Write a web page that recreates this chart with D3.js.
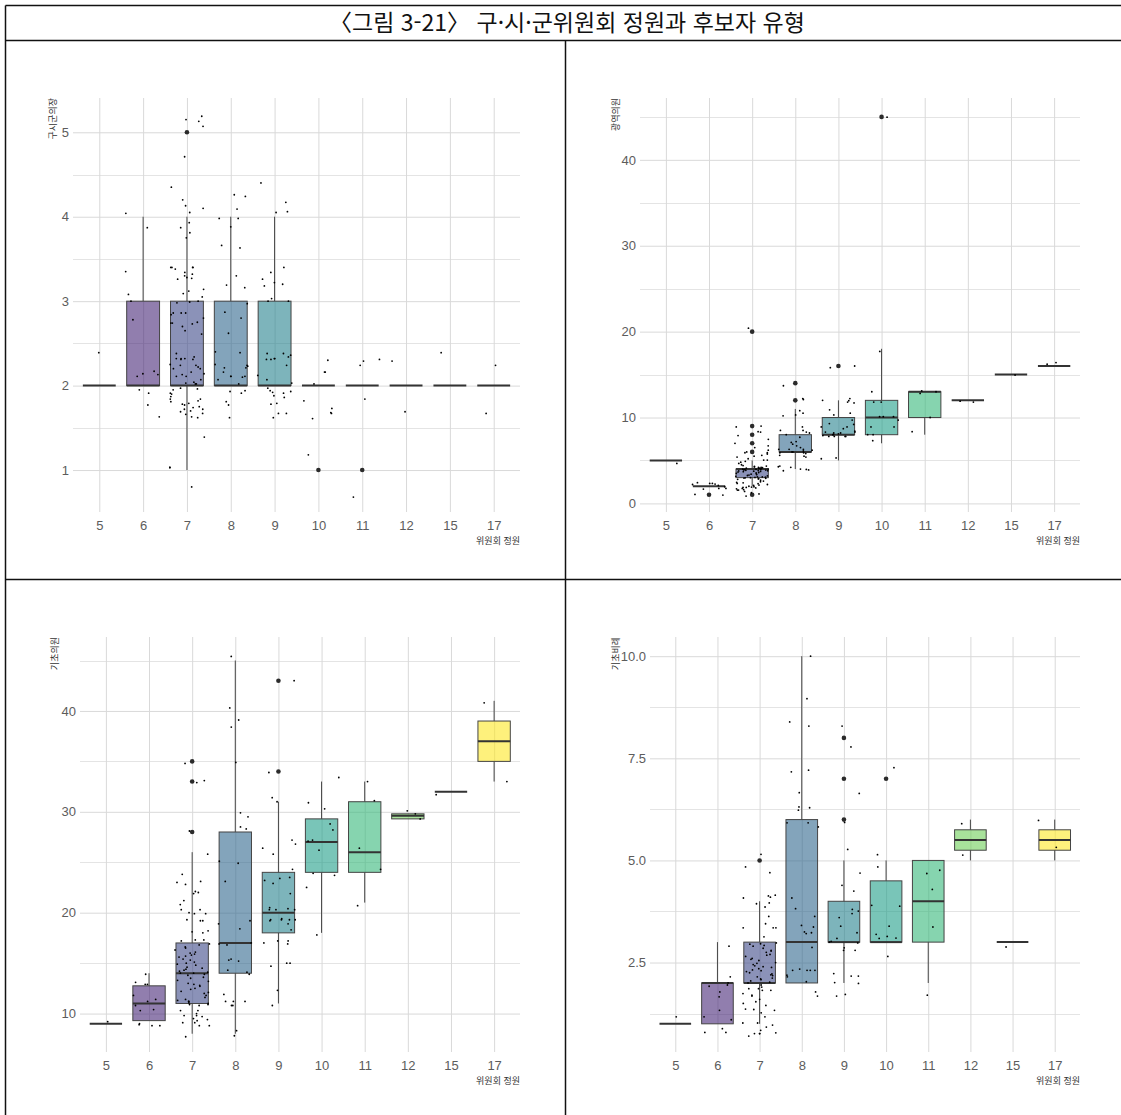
<!DOCTYPE html>
<html lang="ko">
<head>
  <meta charset="UTF-8" />
  <title>구·시·군위원회 정원과 후보자 유형</title>
  <script src="https://d3js.org/d3.v7.min.js"></script>
  <style>
    body {
      margin: 0;
      background: #fff;
    }
    svg {
      display: block;
    }
    .tick text {
      font-family: "Liberation Sans", Arial, sans-serif;
      font-size: 13px;
      fill: #5c5c5c;
    }
    .ko {
      font-family: "Noto Sans CJK KR", sans-serif;
    }
  </style>
</head>
<body>
  <svg id="chart" width="1121" height="1115"></svg>

  <script>
    // x categories: committee size (위원회 정원)
    const categories = ["5", "6", "7", "8", "9", "10", "11", "12", "15", "17"];

    // box stats per category: [lower whisker, q1, median, q3, upper whisker]
    // 구시군의장
    const mayorBox = [
      [2, 2, 2, 2, 2], [2, 2, 2, 3, 4], [1, 2, 2, 3, 4], [2, 2, 2, 3, 4], [2, 2, 2, 3, 4],
      [2, 2, 2, 2, 2], [2, 2, 2, 2, 2], [2, 2, 2, 2, 2], [2, 2, 2, 2, 2], [2, 2, 2, 2, 2]
    ];
    const mayorOutliers = [["7", 5], ["10", 1], ["11", 1]];
    const mayorPoints = [
      [2.39],
      [3.08, 3.0, 3.87, 4.04, 3.35, 2.78, 2.14, 2.17, 2.13, 2.11, 1.95, 1.77, 1.63, 1.91],
      [5.19, 5.13, 5.15, 5.07, 4.71, 4.35, 4.20, 4.13, 4.05, 4.10, 3.93, 3.87, 3.81, 3.75, 3.40, 3.38, 3.40, 3.40,
       3.40, 3.30, 3.27, 3.32, 3.26, 3.34, 3.28, 3.14, 3.12, 3.09, 3.05, 2.99, 2.98, 3.0, 2.86, 2.86, 2.86, 2.84,
       2.74, 2.74, 2.73, 2.75, 2.70, 2.65, 2.61, 2.80, 2.32, 2.32, 2.31, 2.38, 2.34, 2.31, 2.25, 2.24, 2.32, 2.24,
       2.20, 2.20, 2.22, 2.14, 2.13, 2.16, 2.11, 2.11, 2.07, 2.02, 2.04, 2.02, 2.03, 1.97, 1.95, 1.96, 1.90, 1.87,
       1.91, 1.84, 1.82, 1.78, 1.84, 1.75, 1.79, 1.81, 1.77, 1.74, 1.72, 1.70, 1.72, 1.69, 1.66, 1.67, 1.62, 1.63,
       1.39, 1.03, 1.03, 0.80],
      [3.66, 3.98, 4.09, 3.98, 4.26, 4.24, 3.88, 3.63, 3.19, 3.16, 3.30, 2.87, 2.97, 2.62, 2.80, 2.40, 2.39, 2.23,
       2.21, 2.25, 2.21, 2.16, 2.11, 2.24, 2.11, 2.07, 2.10, 2.11, 2.02, 1.94, 1.91, 1.93, 1.81, 1.77, 1.62],
      [4.05, 4.40, 4.17, 4.06, 3.22, 3.40, 3.26, 3.34, 3.18, 3.20, 3.03, 3.0, 3.0, 2.38, 2.34, 2.31, 2.32, 2.31,
       2.36, 2.38, 2.32, 2.24, 2.12, 2.07, 2.03, 1.88, 1.93, 1.94, 1.86, 1.97, 1.92, 1.91, 1.79, 1.78, 1.67, 1.67, 1.62],
      [2.30, 2.16, 2.02, 2.16, 1.82, 1.73, 1.68, 1.67, 1.61, 1.18],
      [2.29, 2.24, 2.31, 1.84, 0.68],
      [2.29, 1.69],
      [2.39],
      [2.24, 1.67]
    ];

    // 광역의원
    const metroBox = [
      [5, 5, 5, 5, 5], [2, 2, 2, 2, 2], [2, 3, 4, 4, 5], [4, 6, 6, 8, 11], [5, 8, 8, 10, 12],
      [7, 8, 10, 12, 18], [8, 10, 13, 13, 13], [12, 12, 12, 12, 12], [15, 15, 15, 15, 15], [16, 16, 16, 16, 16]
    ];
    const metroOutliers = [
      ["6", 1], ["7", 1], ["7", 6], ["7", 7], ["7", 8], ["7", 9], ["7", 20],
      ["8", 12], ["8", 14], ["9", 16], ["10", 45]
    ];
    const metroPoints = [
      [4.66],
      [2.41, 2.33, 2.2, 1.94, 2.25, 2.1, 1.75, 1.75, 2.33, 0.97, 1.05, 1.67],
      [20.4, 9.0, 8.9, 8.35, 8.3, 7.9, 7.46, 7.0, 6.7, 6.5, 6.2, 6.0, 5.9, 5.9, 5.75, 5.6, 5.5, 5.4, 5.2, 5.05,
       5.05, 4.9, 4.8, 4.66, 4.5, 4.4, 4.35, 4.3, 4.25, 4.2, 4.2, 4.15, 4.1, 4.1, 4.05, 4.05, 4.0, 4.0, 3.98, 3.95,
       3.93, 3.9, 3.88, 3.85, 3.82, 3.8, 3.78, 3.75, 3.72, 3.7, 3.65, 3.6, 3.55, 3.5, 3.45, 3.4, 3.35, 3.3, 3.25,
       3.2, 3.15, 3.1, 3.08, 3.05, 3.02, 3.0, 2.98, 2.95, 2.92, 2.9, 2.85, 2.8, 2.7, 2.6, 2.52, 2.45, 2.4, 2.33,
       2.3, 2.2, 2.14, 2.1, 2.0, 1.94, 1.9, 1.86, 1.86, 1.8, 1.75, 1.7, 1.6, 1.55, 1.55, 1.4, 1.24, 1.1, 0.85],
      [13.7, 12.2, 12.1, 10.8, 10.5, 10.3, 10.2, 8.9, 8.5, 8.5, 8.3, 8.2, 8.0, 7.7, 7.2, 7.1, 6.9, 6.7, 6.5, 6.3,
       6.3, 6.3, 6.2, 6.1, 6.0, 6.0, 5.9, 5.9, 5.8, 5.6, 5.5, 5.4, 4.35, 4.27, 4.2, 4.0, 3.96, 3.9, 3.8],
      [16.0, 15.8, 11.8, 12.0, 11.96, 12.2, 11.7, 10.9, 10.5, 10.3, 9.7, 8.9, 8.9, 9.3, 8.7, 8.3, 8.2, 8.0, 8.0,
       8.3, 7.8, 7.8, 7.8, 9.2, 8.2, 7.8, 5.3, 5.2, 8.1, 8.4, 7.9],
      [44.97, 17.7, 13.0, 11.8, 11.8, 10.1, 9.7, 10.1, 10.1, 8.9, 8.9, 8.0, 8.0, 7.3],
      [12.8, 13.1, 13.0, 10.0, 8.35],
      [11.9, 11.8],
      [14.95],
      [16.2, 16.4]
    ];

    // 기초의원
    const localBox = [
      [9, 9, 9, 9, 9], [9.3, 9.3, 11, 12.75, 14], [8, 11, 14, 17, 26], [8, 14, 17, 28, 45], [11, 18, 20, 24, 31],
      [18, 24, 27, 29.3, 33], [21, 24, 26, 31, 33], [29.3, 29.3, 29.6, 29.8, 29.8], [32, 32, 32, 32, 32], [33, 35, 37, 39, 41]
    ];
    const localOutliers = [["7", 28], ["7", 33], ["7", 35], ["9", 34], ["9", 43]];
    const localPoints = [
      [9.2],
      [13.9, 12.9, 12.9, 13.1, 11.8, 11.2, 11.4, 10.8, 10.4, 10.3, 9.0, 8.9, 8.8, 8.8],
      [34.8, 33.1, 32.9, 28.1, 25.8, 23.8, 23.1, 23.0, 22.8, 22.0, 21.9, 22.1, 20.8, 20.3, 19.9, 19.9, 20.3, 21.2,
       20.0, 19.3, 19.2, 19.2, 18.1, 18.0, 18.2, 17.3, 17.3, 17.2, 16.9, 16.8, 16.6, 16.5, 16.3, 16.1, 16.0, 15.9,
       15.8, 15.7, 15.6, 15.4, 15.3, 15.1, 15.0, 14.9, 14.8, 14.6, 14.5, 14.4, 14.3, 14.2, 14.1, 14.0, 14.0, 13.9,
       13.8, 13.6, 13.5, 13.3, 13.2, 13.0, 12.9, 12.8, 12.7, 12.5, 12.4, 12.2, 12.1, 12.0, 11.8, 11.6, 11.4, 11.3,
       11.2, 11.06, 10.8, 10.9, 10.9, 11.0, 11.2, 10.0, 10.3, 9.8, 10.3, 9.8, 9.7, 9.3, 9.5, 9.1, 9.1, 9.4, 8.8,
       8.8, 7.7],
      [45.4, 40.3, 39.1, 38.4, 34.9, 29.9, 28.3, 28.5, 29.5, 24.9, 25.1, 23.1, 18.9, 19.2, 16.9, 16.8, 17.0, 18.4,
       15.3, 15.4, 15.2, 14.3, 14.1, 13.9, 11.2, 11.9, 10.8, 11.2, 11.2, 7.8, 8.3, 10.8],
      [43.0, 33.9, 31.4, 31.0, 27.2, 26.8, 26.4, 25.8, 24.3, 23.4, 23.5, 22.9, 23.2, 21.9, 20.4, 20.5, 20.3, 20.3,
       20.3, 19.3, 19.3, 19.4, 19.3, 19.3, 19.2, 18.9, 18.3, 17.0, 17.2, 17.2, 16.9, 15.0, 15.0, 14.7, 12.3, 10.8],
      [33.4, 30.3, 30.9, 28.2, 27.2, 27.1, 26.2, 28.8, 23.9, 23.7, 22.5, 17.8],
      [33.0, 31.1, 24.3, 26.4, 20.7],
      [30.1, 29.3, 29.8],
      [31.7],
      [40.8, 33.0]
    ];

    // 기초비례
    const propBox = [
      [1, 1, 1, 1, 1], [1, 1, 2, 2, 3], [1, 2, 2, 3, 4], [2, 2, 3, 6, 10], [2, 3, 3, 4, 5],
      [3, 3, 3, 4.5, 5], [2, 3, 4, 5, 5], [5, 5.25, 5.5, 5.75, 6], [3, 3, 3, 3, 3], [5, 5.25, 5.5, 5.75, 6]
    ];
    const propOutliers = [["7", 5], ["9", 6], ["9", 7], ["9", 8], ["10", 7]];
    const propPoints = [
      [1.17],
      [2.9, 2.15, 2.0, 1.95, 1.78, 1.92, 1.66, 1.33, 1.1, 1.17, 0.88, 0.79, 0.79],
      [5.15, 4.84, 4.7, 4.15, 4.08, 4.1, 4.13, 3.96, 3.86, 3.94, 3.63, 3.45, 3.35, 3.35, 3.35, 3.13, 2.92, 2.96,
       2.98, 2.95, 2.9, 2.85, 2.8, 2.78, 2.75, 2.7, 2.68, 2.65, 2.6, 2.58, 2.55, 2.5, 2.48, 2.45, 2.42, 2.4, 2.38,
       2.35, 2.32, 2.3, 2.28, 2.25, 2.22, 2.2, 2.18, 2.15, 2.12, 2.1, 2.08, 2.05, 2.02, 2.0, 1.86, 1.82, 1.82, 1.86,
       1.74, 1.68, 1.7, 1.54, 1.33, 1.27, 1.35, 1.36, 1.17, 0.97, 0.92, 1.02, 0.84, 0.78, 0.76, 0.76, 0.7, 1.02,
       0.76, 1.9, 1.95, 1.6, 1.45, 1.5],
      [10.0, 8.96, 8.29, 8.39, 7.17, 7.21, 6.66, 6.31, 6.23, 6.29, 5.92, 5.92, 5.82, 4.08, 3.82, 3.63, 3.41, 3.37,
       3.25, 3.21, 3.23, 2.87, 2.31, 2.34, 2.31, 2.31, 2.31, 2.19, 2.15, 2.03, 1.78, 1.68],
      [8.29, 7.78, 6.64, 5.93, 5.27, 4.39, 4.69, 4.25, 3.76, 3.7, 3.6, 3.8, 3.39, 3.23, 3.09, 2.8, 2.8, 2.86, 2.23,
       2.01, 1.99, 2.17, 2.17, 1.68, 1.72, 3.0, 3.02, 2.98],
      [7.27, 4.84, 5.14, 3.88, 3.9, 3.39, 3.19, 3.14, 3.09, 3.1, 2.65],
      [4.76, 4.68, 4.29, 3.37, 1.7],
      [5.9, 5.13],
      [2.88],
      [5.98, 5.32]
    ];

    const svg = d3.select("#chart");
    const colors = d3.quantize(d3.interpolateViridis, categories.length);
    const rng = d3.randomLcg(0.37);

    const panels = [
      { box: mayorBox, out: mayorOutliers, pts: mayorPoints, label: "구시군의장",
        domain: [0.503, 5.406], ticks: [1, 2, 3, 4, 5], minor: [0.5, 1.5, 2.5, 3.5, 4.5], fmt: d3.format("d"),
        left: 73, right: 520, top: 98, bottom: 512, labelX: 52 },
      { box: metroBox, out: metroOutliers, pts: metroPoints, label: "광역의원",
        domain: [-1.0, 47.2], ticks: [0, 10, 20, 30, 40], minor: [5, 15, 25, 35, 45], fmt: d3.format("d"),
        left: 640, right: 1080, top: 98, bottom: 512, labelX: 615 },
      { box: localBox, out: localOutliers, pts: localPoints, label: "기초의원",
        domain: [6.19, 47.33], ticks: [10, 20, 30, 40], minor: [15, 25, 35, 45], fmt: d3.format("d"),
        left: 80, right: 520, top: 637, bottom: 1052, labelX: 54 },
      { box: propBox, out: propOutliers, pts: propPoints, label: "기초비례",
        domain: [0.31, 10.47], ticks: [2.5, 5, 7.5, 10], minor: [1.25, 3.75, 6.25, 8.75], fmt: d3.format(".1f"),
        left: 650, right: 1080, top: 637, bottom: 1052, labelX: 615 }
    ];

    function drawPanel(p) {
      const x = d3.scalePoint().domain(categories).range([p.left, p.right]).padding(0.6);
      const y = d3.scaleLinear().domain(p.domain).range([p.bottom, p.top]);
      const w = p.right - p.left;
      const h = p.bottom - p.top;
      const bw = x.step() * 0.75;
      const g = svg.append("g");

      // minor horizontal grid
      g.append("g").selectAll("line")
        .data(p.minor.filter(d => d > p.domain[0] && d < p.domain[1]))
        .join("line")
        .attr("x1", p.left).attr("x2", p.right)
        .attr("y1", d => Math.round(y(d)) + 0.5).attr("y2", d => Math.round(y(d)) + 0.5)
        .attr("stroke", "#e4e4e4");

      g.append("g")
        .attr("transform", `translate(${p.left},0)`)
        .call(d3.axisLeft(y).tickValues(p.ticks).tickFormat(p.fmt).tickSize(-w).tickPadding(4))
        .call(a => a.select(".domain").remove())
        .call(a => a.selectAll(".tick line").attr("stroke", "#d9d9d9"));

      g.append("g")
        .attr("transform", `translate(0,${p.bottom})`)
        .call(d3.axisBottom(x).tickSize(-h).tickPadding(9))
        .call(a => a.select(".domain").remove())
        .call(a => a.selectAll(".tick line").attr("stroke", "#d9d9d9"));

      // axis titles
      g.append("text")
        .attr("class", "ko")
        .attr("transform", `translate(${p.labelX + 3.5},${p.top}) rotate(-90)`)
        .attr("text-anchor", "end")
        .attr("font-size", 9)
        .attr("fill", "#333")
        .text(p.label);

      g.append("text")
        .attr("class", "ko")
        .attr("x", p.right)
        .attr("y", p.bottom + 32)
        .attr("text-anchor", "end")
        .attr("font-size", 9)
        .attr("fill", "#333")
        .text("위원회 정원");

      const stats = categories.map((c, i) => ({ c, i, s: p.box[i] }));
      const boxes = g.append("g").selectAll("g").data(stats).join("g");

      boxes.append("line")
        .attr("x1", d => x(d.c)).attr("x2", d => x(d.c))
        .attr("y1", d => y(d.s[0])).attr("y2", d => y(d.s[1]))
        .attr("stroke", "#444");
      boxes.append("line")
        .attr("x1", d => x(d.c)).attr("x2", d => x(d.c))
        .attr("y1", d => y(d.s[3])).attr("y2", d => y(d.s[4]))
        .attr("stroke", "#444");
      boxes.append("rect")
        .attr("x", d => x(d.c) - bw / 2)
        .attr("width", bw)
        .attr("y", d => y(d.s[3]))
        .attr("height", d => y(d.s[1]) - y(d.s[3]))
        .attr("fill", d => colors[d.i])
        .attr("fill-opacity", 0.6)
        .attr("stroke", "#444");
      boxes.append("line")
        .attr("x1", d => x(d.c) - bw / 2).attr("x2", d => x(d.c) + bw / 2)
        .attr("y1", d => y(d.s[2])).attr("y2", d => y(d.s[2]))
        .attr("stroke", "#333")
        .attr("stroke-width", 2);

      g.append("g").selectAll("circle")
        .data(p.out)
        .join("circle")
        .attr("cx", d => x(d[0]))
        .attr("cy", d => y(d[1]))
        .attr("r", 2.3)
        .attr("fill", "#2b2b2b");

      const pts = p.pts.flatMap((vals, i) => vals.map(v => ({ c: categories[i], v })));
      g.append("g").selectAll("circle")
        .data(pts)
        .join("circle")
        .attr("cx", d => x(d.c) + (rng() - 0.5) * 0.8 * x.step())
        .attr("cy", d => y(d.v))
        .attr("r", 0.9)
        .attr("fill", "#000");
    }

    panels.forEach(drawPanel);

    // table frame and title
    const frame = svg.append("g").attr("stroke", "#111").attr("stroke-width", 1.5);
    frame.append("line").attr("x1", 5.5).attr("x2", 1121).attr("y1", 5.5).attr("y2", 5.5);
    frame.append("line").attr("x1", 5.5).attr("x2", 5.5).attr("y1", 5.5).attr("y2", 1115);
    frame.append("line").attr("x1", 5.5).attr("x2", 1121).attr("y1", 40.5).attr("y2", 40.5);
    frame.append("line").attr("x1", 565.5).attr("x2", 565.5).attr("y1", 40.5).attr("y2", 1115);
    frame.append("line").attr("x1", 5.5).attr("x2", 1121).attr("y1", 579.5).attr("y2", 579.5);

    svg.append("text")
      .attr("class", "ko")
      .attr("x", 567)
      .attr("y", 31)
      .attr("text-anchor", "middle")
      .attr("font-size", 23)
      .attr("fill", "#111")
      .text("〈그림 3-21〉 구·시·군위원회 정원과 후보자 유형");
  </script>
</body>
</html>
